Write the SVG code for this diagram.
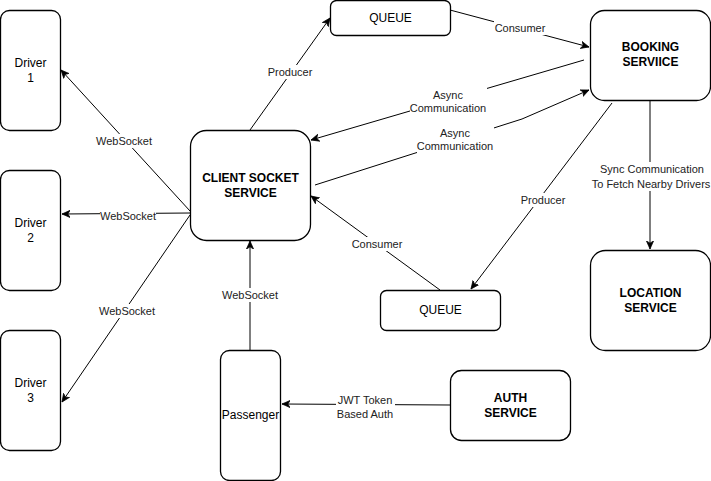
<svg xmlns="http://www.w3.org/2000/svg" width="711" height="481" viewBox="0 0 711 481">
<defs>
<marker id="arr" viewBox="0 0 10 10" refX="9" refY="5" markerWidth="9" markerHeight="9" markerUnits="userSpaceOnUse" orient="auto">
<path d="M0,1 L9,5 L0,9 L2.5,5 Z" fill="#000" stroke="#000" stroke-width="0.8"/>
</marker>
</defs>
<style>
.box{fill:#fff;stroke:#000;stroke-width:1.3}
.t{font-family:"Liberation Sans",Arial,Helvetica,sans-serif;font-size:12px;fill:#000;text-anchor:middle}
.b{font-weight:bold}
.e{fill:none;stroke:#000;stroke-width:1}
.l{font-family:"Liberation Sans",Arial,Helvetica,sans-serif;font-size:11px;fill:#222;text-anchor:middle}
.bg{fill:#fff}
</style>
<rect width="711" height="481" fill="#fff"/>
<g id="connectors">
<line class="e" x1="190" y1="211" x2="61" y2="70" marker-end="url(#arr)"/>
<line class="e" x1="190" y1="213" x2="62" y2="214" marker-end="url(#arr)"/>
<line class="e" x1="190" y1="215" x2="62" y2="402" marker-end="url(#arr)"/>
<line class="e" x1="250" y1="130" x2="330" y2="18" marker-end="url(#arr)"/>
<line class="e" x1="450" y1="10" x2="589" y2="47" marker-end="url(#arr)"/>
<line class="e" x1="584" y1="60" x2="311" y2="140" marker-end="url(#arr)"/>
<polyline class="e" points="315,185 522,119 589,90" marker-end="url(#arr)"/>
<line class="e" x1="612" y1="103" x2="471" y2="289" marker-end="url(#arr)"/>
<line class="e" x1="650" y1="100" x2="650" y2="249" marker-end="url(#arr)"/>
<line class="e" x1="440" y1="290" x2="311" y2="196" marker-end="url(#arr)"/>
<line class="e" x1="250" y1="350" x2="250" y2="241" marker-end="url(#arr)"/>
<line class="e" x1="450" y1="405" x2="282" y2="404" marker-end="url(#arr)"/>
<g id="edge-labels">
<rect class="bg" x="96" y="134" width="56" height="14"/><text class="l" x="124" y="145">WebSocket</text>
<rect class="bg" x="100" y="209" width="56" height="14"/><text class="l" x="128" y="220">WebSocket</text>
<rect class="bg" x="99" y="304" width="56" height="14"/><text class="l" x="127" y="315">WebSocket</text>
<rect class="bg" x="267" y="65" width="46" height="14"/><text class="l" x="290" y="76">Producer</text>
<rect class="bg" x="494" y="21" width="52" height="14"/><text class="l" x="520" y="32">Consumer</text>
<rect class="bg" x="410" y="88" width="77" height="27"/><text class="l" x="448" y="99">Async</text><text class="l" x="448" y="112">Communication</text>
<rect class="bg" x="417" y="126" width="77" height="27"/><text class="l" x="455" y="137">Async</text><text class="l" x="455" y="150">Communication</text>
<rect class="bg" x="520" y="193" width="46" height="14"/><text class="l" x="543" y="204">Producer</text>
<rect class="bg" x="592" y="162" width="120" height="29"/><text class="l" x="652" y="173">Sync Communication</text><text class="l" x="651" y="188">To Fetch Nearby Drivers</text>
<rect class="bg" x="351" y="237" width="52" height="14"/><text class="l" x="377" y="248">Consumer</text>
<rect class="bg" x="222" y="288" width="56" height="14"/><text class="l" x="250" y="299">WebSocket</text>
<rect class="bg" x="336" y="394" width="59" height="27"/><text class="l" x="365" y="404">JWT Token</text><text class="l" x="365" y="418">Based Auth</text>
</g>
</g>
<g id="driver1"><rect class="box" x="0.5" y="10.5" width="60" height="120" rx="9"/><text class="t" x="30.5" y="67">Driver</text><text class="t" x="30.5" y="82">1</text></g>
<g id="driver2"><rect class="box" x="0.5" y="170.5" width="60" height="120" rx="9"/><text class="t" x="30.5" y="227">Driver</text><text class="t" x="30.5" y="242">2</text></g>
<g id="driver3"><rect class="box" x="0.5" y="330.5" width="60" height="120" rx="9"/><text class="t" x="30.5" y="387">Driver</text><text class="t" x="30.5" y="402">3</text></g>
<g id="client-socket-service"><rect class="box" x="190.5" y="130.5" width="120" height="110" rx="16"/><text class="t b" x="250.5" y="182">CLIENT SOCKET</text><text class="t b" x="250.5" y="197">SERVICE</text></g>
<g id="queue-top"><rect class="box" x="330.5" y="0.5" width="120" height="35" rx="6"/><text class="t" x="390.5" y="22">QUEUE</text></g>
<g id="booking-service"><rect class="box" x="590.5" y="10.5" width="120" height="90" rx="14"/><text class="t b" x="650.5" y="51">BOOKING</text><text class="t b" x="650.5" y="66">SERVIICE</text></g>
<g id="location-service"><rect class="box" x="590.5" y="250.5" width="120" height="100" rx="15"/><text class="t b" x="650.5" y="297">LOCATION</text><text class="t b" x="650.5" y="312">SERVICE</text></g>
<g id="queue-bottom"><rect class="box" x="380.5" y="290.5" width="120" height="40" rx="6"/><text class="t" x="440.5" y="314">QUEUE</text></g>
<g id="auth-service"><rect class="box" x="450.5" y="370.5" width="120" height="70" rx="11"/><text class="t b" x="510.5" y="402">AUTH</text><text class="t b" x="510.5" y="417">SERVICE</text></g>
<g id="passenger"><rect class="box" x="220.5" y="350.5" width="60" height="130" rx="9"/><text class="t" x="250.5" y="419">Passenger</text></g>
</svg>
